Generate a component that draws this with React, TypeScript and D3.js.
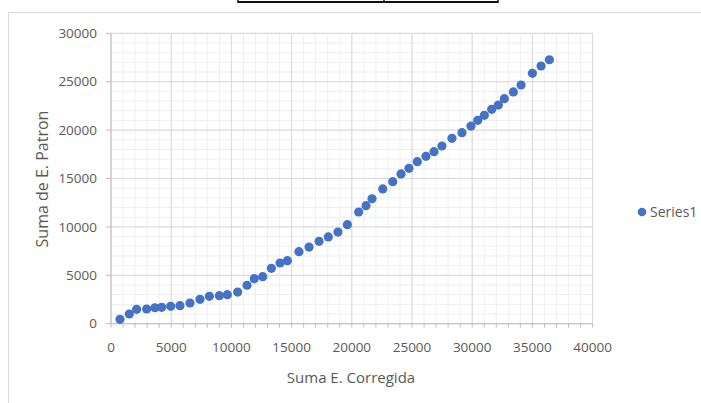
import React from "react";
import * as d3 from "d3";

const xValues = [747, 1520, 2130, 2960, 3650, 4210, 4960, 5730, 6560, 7390, 8170, 9000, 9660, 10520, 11300, 11900, 12600, 13320, 14040, 14650, 15610, 16450, 17280, 18050, 18850, 19630, 20570, 21180, 21680, 22570, 23400, 24090, 24750, 25440, 26160, 26830, 27490, 28320, 29150, 29900, 30460, 31010, 31620, 32170, 32670, 33420, 34060, 35000, 35720, 36410];
const yValues = [455, 1000, 1490, 1520, 1650, 1690, 1800, 1860, 2140, 2520, 2830, 2890, 3000, 3270, 3970, 4650, 4860, 5720, 6270, 6510, 7440, 7920, 8510, 8960, 9470, 10230, 11540, 12190, 12910, 13920, 14670, 15470, 16050, 16740, 17290, 17770, 18360, 19150, 19730, 20420, 21010, 21530, 22150, 22590, 23250, 23940, 24660, 25870, 26620, 27270];
const xTicks = [0, 5000, 10000, 15000, 20000, 25000, 30000, 35000, 40000];
const yTicks = [0, 5000, 10000, 15000, 20000, 25000, 30000];
const seriesName = "Series1";
const xTitle = "Suma E. Corregida";
const yTitle = "Suma de E. Patron";

export default function App() {
  const W = 701, H = 403;
  const x = d3.scaleLinear().domain([0, 40000]).range([111, 592.6]);
  const y = d3.scaleLinear().domain([0, 30000]).range([323.7, 33.3]);
  const minorX = d3.range(0, 40001, 1000);
  const minorY = d3.range(0, 30001, 1000);
  const font = "'Open Sans', sans-serif";
  const txt = "#595959";
  return (
    <div style={{ position: "absolute", left: 0, top: 0, width: W, height: H, background: "#fff" }}>
      <svg width={W} height={H} style={{ display: "block" }}>
        <rect width={W} height={H} fill="#fff" />
        {/* top table remnant */}
        <line x1={238} x2={498} y1={2} y2={2} stroke="#111" strokeWidth={2} />
        <line x1={238} x2={238} y1={0} y2={3} stroke="#111" strokeWidth={1.5} />
        <line x1={384} x2={384} y1={0} y2={3} stroke="#111" strokeWidth={1.5} />
        <line x1={498} x2={498} y1={0} y2={3} stroke="#111" strokeWidth={1.5} />
        {/* chart frame */}
        <line x1={8} x2={W} y1={12.5} y2={12.5} stroke="#d9d9d9" />
        <line x1={8.5} x2={8.5} y1={12} y2={H} stroke="#d9d9d9" />
        {/* minor grid */}
        {minorX.map((v) => (
          <line key={"mx" + v} x1={x(v)} x2={x(v)} y1={y(30000)} y2={y(0)} stroke="#efefef" strokeWidth={1} />
        ))}
        {minorY.map((v) => (
          <line key={"my" + v} x1={x(0)} x2={x(40000)} y1={y(v)} y2={y(v)} stroke="#efefef" strokeWidth={1} />
        ))}
        {/* major grid */}
        {xTicks.map((v) => (
          <line key={"gx" + v} x1={x(v)} x2={x(v)} y1={y(30000)} y2={y(0)} stroke="#d9d9d9" strokeWidth={1} />
        ))}
        {yTicks.map((v) => (
          <line key={"gy" + v} x1={x(0)} x2={x(40000)} y1={y(v)} y2={y(v)} stroke="#d9d9d9" strokeWidth={1} />
        ))}
        {/* axes */}
        <line x1={x(0)} x2={x(40000)} y1={y(0)} y2={y(0)} stroke="#bfbfbf" />
        <line x1={x(0)} x2={x(0)} y1={y(0)} y2={y(30000)} stroke="#bfbfbf" />
        {minorX.map((v) => (
          <line key={"tx" + v} x1={x(v)} x2={x(v)} y1={y(0)} y2={y(0) + 4} stroke="#bfbfbf" />
        ))}
        {yTicks.map((v) => (
          <line key={"ty" + v} x1={x(0) - 5} x2={x(0)} y1={y(v)} y2={y(v)} stroke="#bfbfbf" />
        ))}
        {/* tick labels */}
        {xTicks.map((v) => (
          <text key={"lx" + v} x={x(v)} y={351.5} textAnchor="middle" fontFamily={font} fontSize={13.5} fill={txt}>{v}</text>
        ))}
        {yTicks.map((v) => (
          <text key={"ly" + v} x={97} y={y(v) + 4.7} textAnchor="end" fontFamily={font} fontSize={13.5} fill={txt}>{v}</text>
        ))}
        {/* titles */}
        <text x={351} y={382.5} textAnchor="middle" fontFamily={font} fontSize={15} fill={txt}>{xTitle}</text>
        <text transform={`translate(48,179) rotate(-90)`} textAnchor="middle" fontFamily={font} fontSize={16} fill={txt}>{yTitle}</text>
        {/* points */}
        {xValues.map((v, i) => (
          <circle key={"p" + i} cx={x(v)} cy={y(yValues[i])} r={4.6} fill="#4472c4" />
        ))}
        {/* legend */}
        <circle cx={642} cy={212} r={4.3} fill="#4472c4" />
        <text x={650} y={217} fontFamily={font} fontSize={14} fill={txt}>{seriesName}</text>
      </svg>
    </div>
  );
}
